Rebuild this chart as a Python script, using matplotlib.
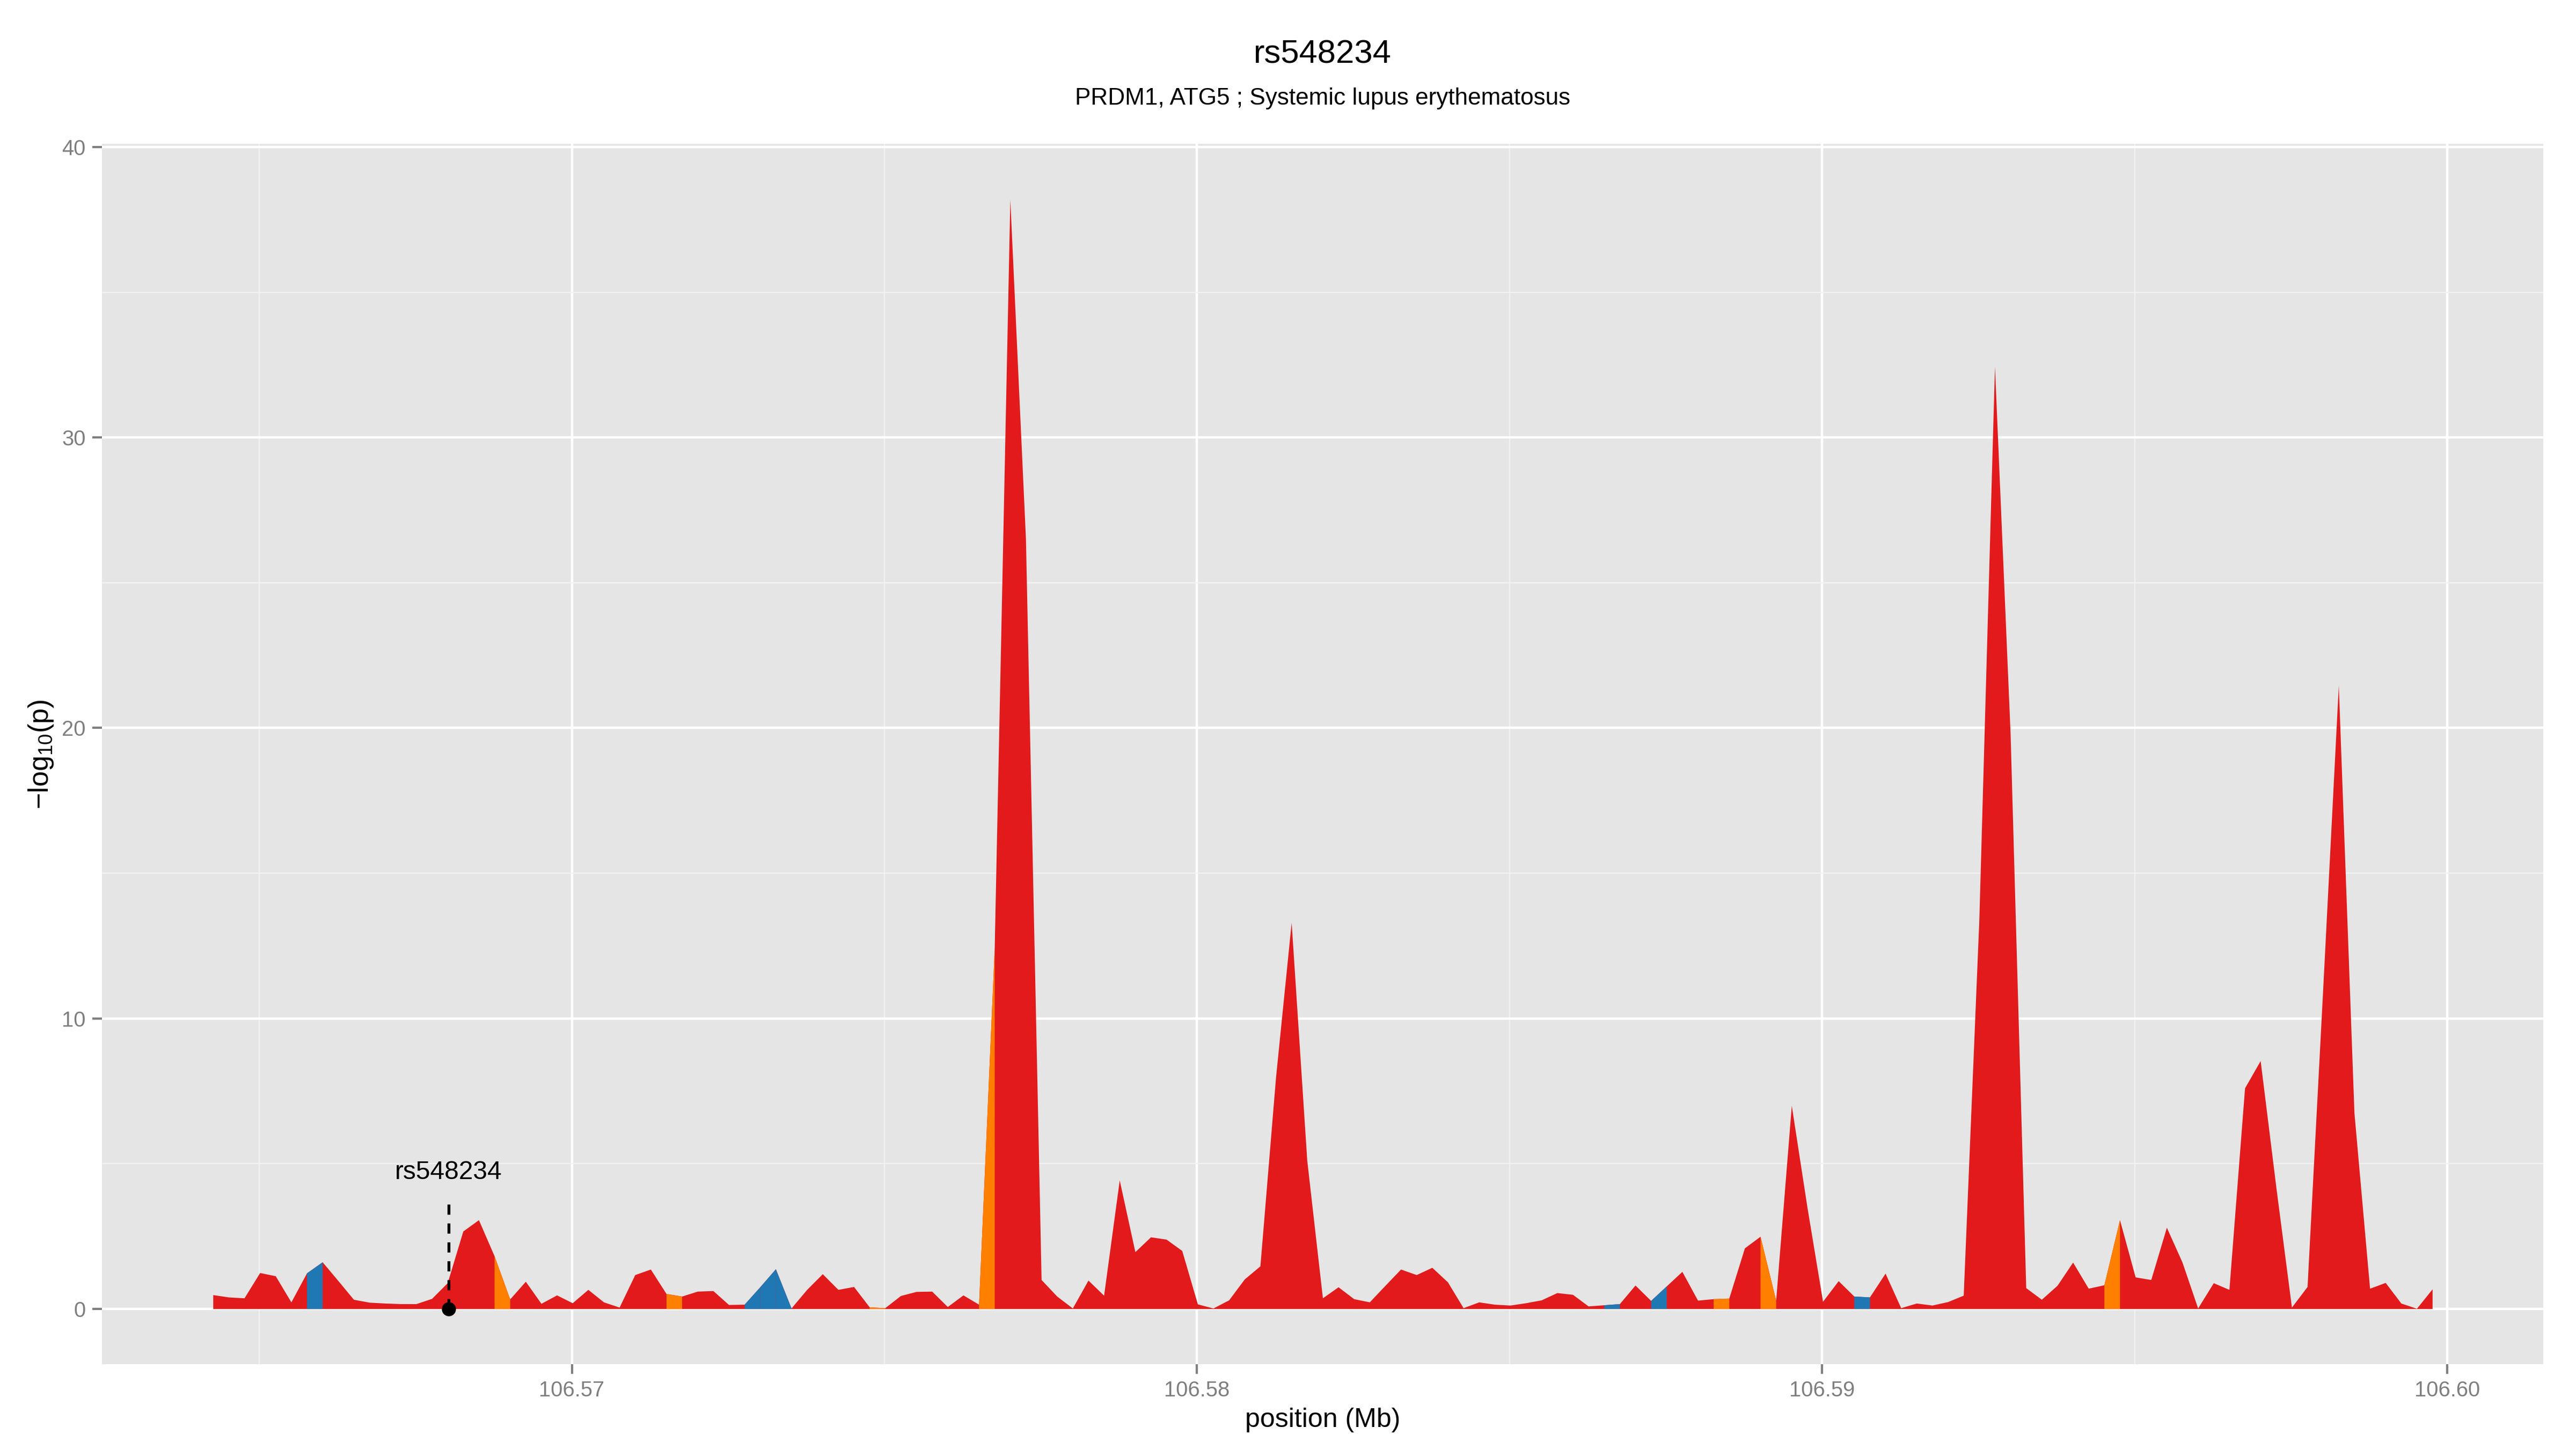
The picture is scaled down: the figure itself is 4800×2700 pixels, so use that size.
import numpy as np
import matplotlib
matplotlib.use('Agg')
import matplotlib.pyplot as plt
from matplotlib.ticker import MultipleLocator

# regional association plot, -log10(p) in 250 bp bins
snp = 'rs548234'
subtitle = 'PRDM1, ATG5 ; Systemic lupus erythematosus'
snp_pos = 106.56803

start_mb = 106.56426
step_mb = 0.00025

logp = [
    0.48, 0.40, 0.37, 1.24, 1.13, 0.23, 1.23, 1.61, 0.97, 0.32,
    0.22, 0.19, 0.17, 0.17, 0.35, 0.89, 2.67, 3.06, 1.82, 0.33,
    0.94, 0.18, 0.47, 0.20, 0.66, 0.23, 0.05, 1.17, 1.36, 0.52,
    0.43, 0.60, 0.62, 0.14, 0.15, 0.75, 1.37, 0.02, 0.66, 1.20,
    0.66, 0.76, 0.06, 0.03, 0.45, 0.59, 0.60, 0.07, 0.47, 0.15,
    12.4, 38.2, 26.5, 1.00, 0.43, 0.02, 0.98, 0.46, 4.43, 1.96,
    2.47, 2.39, 2.00, 0.16, 0.02, 0.30, 1.02, 1.47, 7.97, 13.3,
    5.10, 0.37, 0.75, 0.34, 0.23, 0.80, 1.36, 1.17, 1.42, 0.92,
    0.03, 0.23, 0.15, 0.12, 0.20, 0.30, 0.55, 0.49, 0.09, 0.13,
    0.17, 0.81, 0.28, 0.78, 1.28, 0.29, 0.34, 0.36, 2.09, 2.49,
    0.29, 7.00, 3.50, 0.25, 0.96, 0.43, 0.40, 1.22, 0.03, 0.19,
    0.12, 0.24, 0.46, 13.4, 32.45, 19.8, 0.72, 0.32, 0.80, 1.60,
    0.70, 0.82, 3.06, 1.09, 1.00, 2.80, 1.60, 0.02, 0.89, 0.66,
    7.60, 8.54, 4.20, 0.05, 0.76, 11.0, 21.47, 6.75, 0.70, 0.90,
    0.19, 0.01, 0.68,
]

# bins (interval starting at that point) drawn in other colours
orange_bins = [18, 29, 42, 49, 96, 99, 121]
blue_bins = [6, 34, 35, 36, 89, 92, 105]

xticks = [106.57, 106.58, 106.59, 106.60]
xtick_labels = ['106.57', '106.58', '106.59', '106.60']
yticks = [0, 10, 20, 30, 40]

RED = '#E31A1C'
ORANGE = '#FF7F00'
BLUE = '#1F78B4'
GREY = '#7F7F7F'

plt.rcParams['font.family'] = ['Liberation Sans', 'DejaVu Sans']
plt.rcParams['mathtext.fontset'] = 'custom'
plt.rcParams['mathtext.rm'] = 'Liberation Sans'
plt.rcParams['mathtext.it'] = 'Liberation Sans:italic'

y = np.array(logp)
pos = start_mb + step_mb * np.arange(len(y))

fig = plt.figure(figsize=(16, 9), dpi=300)
ax = fig.add_axes([0.0396, 0.0585, 0.9477, 0.8422])
ax.set_facecolor('#E5E5E5')
for s in ax.spines.values():
    s.set_visible(False)

ax.fill_between(pos, 0, y, color=RED, lw=0, zorder=2)
for idx in orange_bins:
    ax.fill_between(pos[idx:idx + 2], 0, y[idx:idx + 2], color=ORANGE, lw=0, zorder=3)
for idx in blue_bins:
    ax.fill_between(pos[idx:idx + 2], 0, y[idx:idx + 2], color=BLUE, lw=0, zorder=3)

# lead snp marker
ax.plot([snp_pos, snp_pos], [0, 3.85], color='black', lw=1.3,
        linestyle=(0, (3.5, 3)), zorder=4)
ax.plot(snp_pos, 0, 'o', color='black', ms=5.3, zorder=5, clip_on=False)
ax.text(snp_pos, 4.47, snp, ha='center', va='baseline', fontsize=11.5, zorder=5)

xr = pos[-1] - pos[0]
ax.set_xlim(pos[0] - 0.05 * xr, pos[-1] + 0.05 * xr)
ax.set_ylim(-0.05 * y.max(), 1.05 * y.max())

ax.set_xticks(xticks)
ax.set_xticklabels(xtick_labels)
ax.set_yticks(yticks)
ax.xaxis.set_minor_locator(MultipleLocator(0.005))
ax.yaxis.set_minor_locator(MultipleLocator(5))
ax.set_axisbelow(True)
ax.grid(which='minor', color='#F2F2F2', lw=0.53, zorder=0)
ax.grid(which='major', color='white', lw=1.07, zorder=1)
ax.tick_params(which='minor', length=0)
ax.tick_params(which='major', length=4.25, width=1.0, color=GREY,
               labelcolor=GREY, labelsize=9.6, pad=3)

ax.set_xlabel('position (Mb)', fontsize=12, labelpad=3)
ax.set_ylabel(r'$\mathrm{-log_{10}(p)}$', fontsize=12.5, labelpad=3)

cx = 0.0396 + 0.9477 / 2
fig.text(cx, 0.9563, snp, ha='center', va='baseline', fontsize=14.8)
fig.text(cx, 0.9278, subtitle, ha='center', va='baseline', fontsize=10.6)

fig.savefig('out.png', dpi=300)
